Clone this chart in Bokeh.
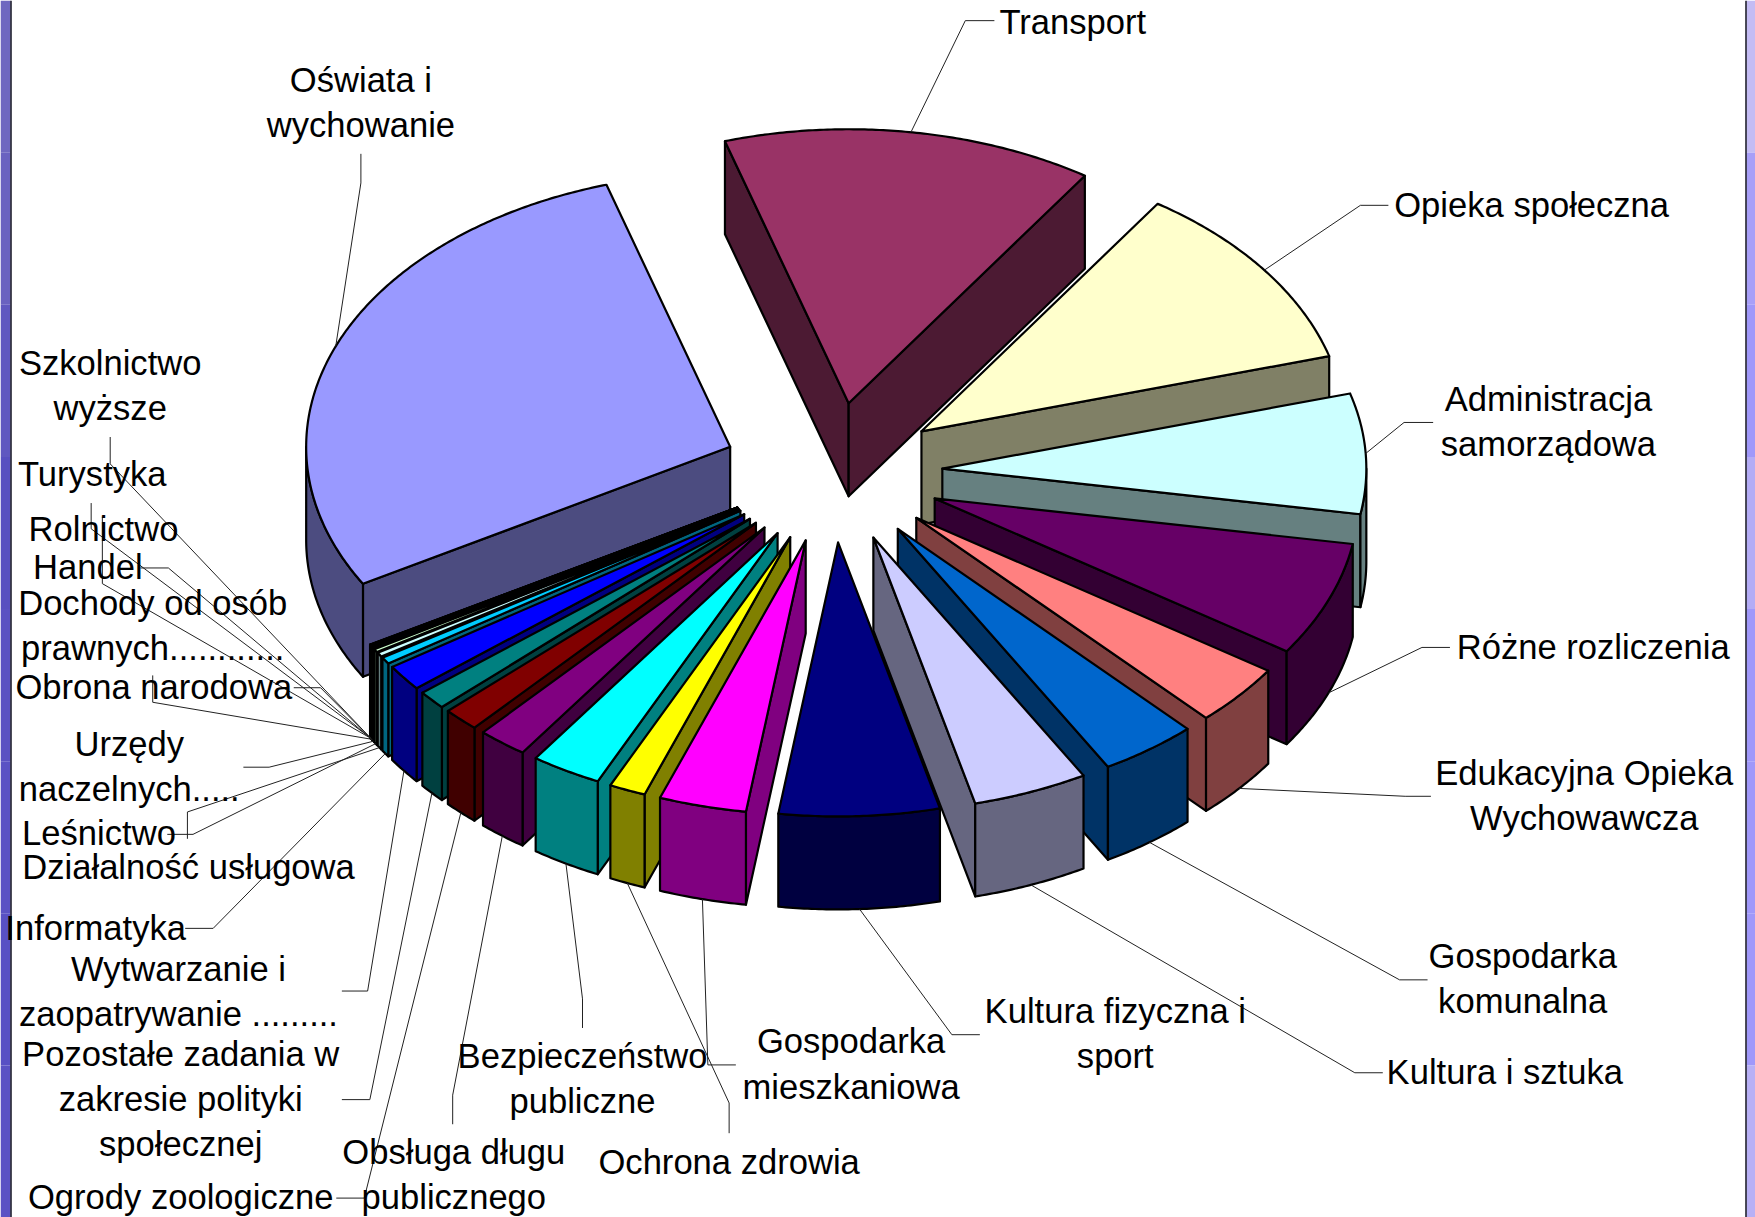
import math
from bokeh.plotting import figure
from bokeh.models import ColumnDataSource
from bokeh.core.properties import value
from bokeh.embed import file_html
from bokeh.resources import INLINE

# ---------- data ----------
categories = ["Oświata i\nwychowanie", "Transport", "Opieka społeczna", "Administracja\nsamorządowa",
              "Różne rozliczenia", "Edukacyjna Opieka\nWychowawcza", "Gospodarka\nkomunalna", "Kultura i sztuka",
              "Kultura fizyczna i\nsport", "Gospodarka\nmieszkaniowa", "Ochrona zdrowia", "Bezpieczeństwo\npubliczne",
              "Obsługa długu\npublicznego", "Ogrody zoologiczne", "Pozostałe zadania w\nzakresie polityki\nspołecznej",
              "Wytwarzanie i\nzaopatrywanie .........", "Informatyka", "Działalność usługowa", "Leśnictwo",
              "Urzędy\nnaczelnych.....", "Obrona narodowa", "Dochody od osób\nprawnych............", "Handel",
              "Rolnictwo", "Turystyka", "Szkolnictwo\nwyższe"]
values = [28.61, 14.11, 11.17, 7.08, 6.75, 3.61, 3.72, 4.39, 6.11, 3.33, 1.39, 2.69, 1.89, 1.39, 1.11, 1.54,
          0.40, 0.25, 0.18, 0.08, 0.05, 0.03, 0.03, 0.02, 0.02, 0.01]

# ---------- style ----------
top_colors = ["#9999FF", "#993366", "#FFFFCC", "#CCFFFF", "#660066", "#FF8080", "#0066CC", "#CCCCFF",
              "#000080", "#FF00FF", "#FFFF00", "#00FFFF", "#800080", "#800000", "#008080", "#0000FF",
              "#00CCFF", "#CCFFFF", "#CCFFCC", "#FFFF99", "#99CCFF", "#FF99CC", "#CC99FF", "#FFCC99",
              "#3366FF", "#33CCCC"]

# ---------- layout (3-D pie projection, in page pixels) ----------
W, H = 1755, 1217
K = W / 1568
CX, CY = 832, 472          # pie centre
RX, RY = 424, 274          # ellipse radii
EX, EY = 110, 70           # explosion offset
DEPTH = 93
START = 240.0

# label layout: centre x, centre y of first line, in shrunk-picture units
label_x = [322, 958, 1368, 1383, 1423, 1415, 1360, 1344, 996, 760, 651, 520, 405, 161, 161, 159, 85, 168, 88, 115,
           137, 136, 78, 92, 82, 98]
label_y = [71, 19, 183, 356, 578, 690, 854, 957, 903, 930, 1038, 943, 1029, 1069, 941, 865, 829, 774, 744, 664,
           613, 538, 506, 472, 423, 324]
line_gap = 40.3
# leader start and elbow, in shrunk-picture units
leader_a = [(322, 137), (888, 18), (1240, 183), (1280, 377), (1295, 578), (1278, 711), (1275, 875), (1235, 958),
            (875, 924), (657, 951), (651, 1012), (520, 918), (404, 1004), (300, 1070), (305, 982), (305, 885),
            (165, 829), (167, 749), (149, 745), (217, 685), (262, 614), (136, 603), (125, 507), (91, 461), (81, 449), (98, 390)]
leader_b = [(322, 163), (862, 18), (1215, 183), (1254, 377), (1270, 578), (1255, 711), (1250, 875), (1210, 958),
            (850, 924), (632, 951), (651, 985), (520, 892), (404, 978), (325, 1070), (330, 982), (328, 885),
            (190, 829), (167, 725), (172, 745), (240, 685), (286, 614), (136, 627), (150, 507), (91, 521), (81, 472), (98, 414)]

# ---------- geometry from the values ----------
total = sum(values)
spans = [v / total * 360 for v in values]
slices = []
a = START
for i, s in enumerate(spans):
    slices.append((i, a, a + s))
    a += s


def shade(c):
    r, g, b = int(c[1:3], 16), int(c[3:5], 16), int(c[5:7], 16)
    return "#%02X%02X%02X" % (round(r / 2), round(g / 2), round(b / 2))


def rim(ang, ax, ay):
    t = math.radians(ang)
    return ax + RX * math.sin(t), ay - RY * math.cos(t)


polys_x, polys_y, fills = [], [], []


def add(xs, ys, c):
    polys_x.append(xs)
    polys_y.append(ys)
    fills.append(c)


order = sorted(slices, key=lambda q: -math.cos(math.radians((q[1] + q[2]) / 2)))
anchors = {}
for i, a0, a1 in order:
    mid = math.radians((a0 + a1) / 2)
    ax, ay = CX + EX * math.sin(mid), CY - EY * math.cos(mid)
    top, wall = top_colors[i], shade(top_colors[i])
    # side faces turned towards the viewer
    for e, visible in ((a0, math.sin(math.radians(a0)) < 0), (a1, math.sin(math.radians(a1)) > 0)):
        if visible:
            ex, ey = rim(e, ax, ay)
            add([ax, ex, ex, ax], [ay, ey, ey + DEPTH, ay + DEPTH], wall)
    # outer wall, the part facing the viewer
    for lo, hi in ((90, 270), (450, 630)):
        b0, b1 = max(a0, lo), min(a1, hi)
        if b1 > b0:
            n = max(2, int((b1 - b0) * 2))
            arc = [rim(b0 + (b1 - b0) * k / n, ax, ay) for k in range(n + 1)]
            add([p[0] for p in arc] + [p[0] for p in arc[::-1]],
                [p[1] for p in arc] + [p[1] + DEPTH for p in arc[::-1]], wall)
    # top face
    n = max(2, int((a1 - a0) * 2))
    arc = [rim(a0 + (a1 - a0) * k / n, ax, ay) for k in range(n + 1)]
    add([ax] + [p[0] for p in arc], [ay] + [p[1] for p in arc], top)
    # leader anchor
    m = math.degrees(mid) % 360
    mx, my = rim(m, ax, ay)
    anchors[i] = (mx, my + (DEPTH if 90 < m < 270 else 0))

p = figure(width=W, height=H, x_range=(0, W), y_range=(H, 0), toolbar_location=None,
           output_backend="svg", min_border=0, outline_line_color=None, margin=(0, 0, 0, 0))
p.axis.visible = False
p.grid.visible = False

# side bands of the slide background
left_stops = ["#6F68C0", "#6A62C0", "#6058C0", "#5850C0", "#5A52C2", "#5A52C4", "#5850C4", "#5A52C4"]
right_stops = ["#C4BCF4", "#A89FF8", "#A098FA", "#B4ACF6", "#A098FA", "#A098FA", "#A098FA", "#B8B0F6"]
n = len(left_stops)
for j in range(n):
    p.quad(left=0, right=10, top=j * H / n, bottom=(j + 1) * H / n, fill_color=left_stops[j], line_color=None)
    p.quad(left=1746, right=W, top=j * H / n, bottom=(j + 1) * H / n, fill_color=right_stops[j], line_color=None)
p.segment(x0=[10.5, 1745.5], y0=[0, 0], x1=[10.5, 1745.5], y1=[H, H], line_color="#101020", line_width=1.5)

src = ColumnDataSource(dict(xs=polys_x, ys=polys_y, c=fills))
p.patches("xs", "ys", source=src, fill_color="c", line_color="black", line_width=2.2, line_join="round")

# leaders
lx, ly = [], []
for i in range(len(values)):
    ex, ey = anchors[i]
    lx.append([leader_a[i][0] * K, leader_b[i][0] * K, ex])
    ly.append([leader_a[i][1] * K, leader_b[i][1] * K, ey])
p.multi_line(lx, ly, line_color="#222222", line_width=1)

# labels
tx, ty, tt = [], [], []
for i, lab in enumerate(categories):
    for k, part in enumerate(lab.split("\n")):
        tx.append(label_x[i] * K)
        ty.append((label_y[i] + k * line_gap) * K)
        tt.append(part)
p.text(tx, ty, text=tt, text_font=value("Liberation Sans"), text_font_size="34.6px", text_align="center",
       text_baseline="middle", text_color="black")

open("out.html", "w").write(file_html(p, INLINE))
